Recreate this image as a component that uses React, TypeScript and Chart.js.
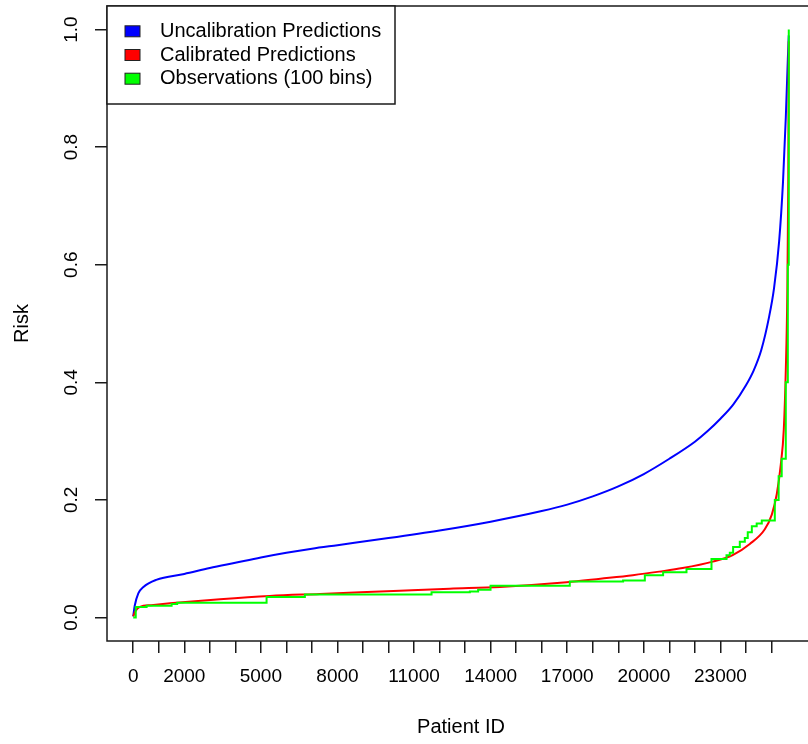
import { useEffect, useRef } from 'react';
import { Chart, registerables } from 'chart.js';

Chart.register(...registerables);

// ---- data ----
const seriesLabels = ['Uncalibration Predictions', 'Calibrated Predictions', 'Observations (100 bins)'];
const seriesColors = ['#0000ff', '#ff0000', '#00ff00'];

const blueX = [1, 60, 200, 400, 900, 2000, 3000, 4000, 5000, 6000, 7000, 8000, 10000, 12000, 14000, 16000, 17000, 18000, 19000, 20000, 21000, 22000, 22500, 23000, 23500, 24000, 24300, 24600, 24900, 25100, 25300, 25450, 25560, 25640, 25677];
const blueY = [0.002, 0.02, 0.041, 0.052, 0.064, 0.074, 0.084, 0.093, 0.102, 0.11, 0.117, 0.123, 0.135, 0.148, 0.163, 0.181, 0.192, 0.206, 0.223, 0.244, 0.27, 0.299, 0.317, 0.338, 0.362, 0.395, 0.42, 0.455, 0.51, 0.56, 0.64, 0.74, 0.85, 0.95, 0.99];

const redX = [1, 80, 262, 700, 1440, 3400, 5350, 7310, 10445, 12400, 14360, 16980, 18300, 19570, 20600, 21520, 22700, 23480, 24150, 24738, 25012, 25208, 25364, 25482, 25560, 25619, 25658, 25677];
const redY = [0.002, 0.01, 0.018, 0.021, 0.024, 0.031, 0.0366, 0.04, 0.0456, 0.049, 0.052, 0.06, 0.066, 0.072, 0.078, 0.084, 0.095, 0.106, 0.125, 0.15, 0.175, 0.21, 0.26, 0.32, 0.42, 0.55, 0.75, 0.98];

const greenX = [1, 100, 525, 1504, 1723, 5224, 6724, 11685, 13185, 13510, 13996, 17100, 19188, 20039, 20755, 21671, 22650, 23238, 23367, 23497, 23759, 23955, 24070, 24230, 24420, 24620, 25130, 25280, 25400, 25560, 25640, 25677];
const greenY = [0, 0.018, 0.02, 0.023, 0.025, 0.035, 0.039, 0.043, 0.044, 0.047, 0.054, 0.061, 0.063, 0.072, 0.077, 0.0825, 0.0995, 0.106, 0.11, 0.12, 0.129, 0.135, 0.145, 0.155, 0.16, 0.165, 0.2, 0.24, 0.27, 0.4, 0.6, 1.0];

const xTicks = [0, 1000, 2000, 3000, 4000, 5000, 6000, 7000, 8000, 9000, 10000, 11000, 12000, 13000, 14000, 15000, 16000, 17000, 18000, 19000, 20000, 21000, 22000, 23000, 24000, 25000];
const xLabelled = [0, 2000, 5000, 8000, 11000, 14000, 17000, 20000, 23000];
const yTicks = [0, 0.2, 0.4, 0.6, 0.8, 1.0];

const xTitle = 'Patient ID';
const yTitle = 'Risk';

const FONT = '"Liberation Sans", Arial, Helvetica, sans-serif';

const toPoints = (xs: number[], ys: number[]) => xs.map((x, i) => ({ x, y: ys[i] }));

const frameAndLegend = {
  id: 'frameAndLegend',
  afterDatasetsDraw(chart: any) {
    const { ctx, chartArea } = chart;
    ctx.save();
    ctx.strokeStyle = '#1a1a1a';
    ctx.lineWidth = 1.5;
    ctx.strokeRect(chartArea.left, chartArea.top, chartArea.right - chartArea.left, chartArea.bottom - chartArea.top);

    const x0 = chartArea.left;
    const y0 = chartArea.top;
    const w = 288;
    const h = 98;
    ctx.fillStyle = '#ffffff';
    ctx.fillRect(x0, y0, w, h);
    ctx.strokeRect(x0, y0, w, h);
    ctx.font = `20px ${FONT}`;
    ctx.textBaseline = 'middle';
    ctx.textAlign = 'left';
    chart.data.datasets.forEach((ds: any, i: number) => {
      const cy = y0 + 25.3 + i * 23.7;
      ctx.fillStyle = ds.borderColor;
      ctx.fillRect(x0 + 18, cy - 5.5, 15, 11);
      ctx.lineWidth = 1;
      ctx.strokeStyle = '#222';
      ctx.strokeRect(x0 + 18, cy - 5.5, 15, 11);
      ctx.fillStyle = '#000';
      ctx.fillText(ds.label, x0 + 53, cy);
    });
    ctx.restore();
  },
};

export default function App() {
  const ref = useRef<HTMLCanvasElement | null>(null);

  useEffect(() => {
    if (!ref.current) return;
    Chart.defaults.font.family = FONT;
    const chart = new Chart(ref.current, {
      type: 'line',
      data: {
        datasets: [
          {
            label: seriesLabels[0],
            data: toPoints(blueX, blueY),
            borderColor: seriesColors[0],
            backgroundColor: seriesColors[0],
            borderWidth: 2,
            pointRadius: 0,
            cubicInterpolationMode: 'monotone',
            order: 2,
          },
          {
            label: seriesLabels[1],
            data: toPoints(redX, redY),
            borderColor: seriesColors[1],
            backgroundColor: seriesColors[1],
            borderWidth: 2,
            pointRadius: 0,
            cubicInterpolationMode: 'monotone',
            order: 1,
          },
          {
            label: seriesLabels[2],
            data: toPoints(greenX, greenY),
            borderColor: seriesColors[2],
            backgroundColor: seriesColors[2],
            borderWidth: 2,
            pointRadius: 0,
            stepped: 'before',
            order: 0,
          },
        ],
      },
      options: {
        animation: false,
        responsive: false,
        devicePixelRatio: 1,
        events: [],
        layout: { padding: { left: 0, top: 6, right: 15, bottom: 0 }, autoPadding: false },
        plugins: { legend: { display: false }, tooltip: { enabled: false } },
        scales: {
          x: {
            type: 'linear',
            min: -1026,
            max: 26704,
            afterBuildTicks: (scale: any) => {
              scale.ticks = xTicks.map((v) => ({ value: v }));
            },
            afterFit: (scale: any) => {
              scale.height = 103;
              scale.paddingLeft = 0;
              scale.paddingRight = 0;
            },
            ticks: {
              autoSkip: false,
              maxRotation: 0,
              minRotation: 0,
              padding: 12,
              color: '#000',
              font: { size: 19, family: FONT },
              callback: (v: any) => (xLabelled.includes(Number(v)) ? String(v) : ''),
            },
            grid: {
              display: true,
              drawOnChartArea: false,
              drawTicks: true,
              tickLength: 12,
              color: '#1a1a1a',
              lineWidth: 1.5,
            },
            border: { display: false },
            title: {
              display: true,
              text: xTitle,
              color: '#000',
              font: { size: 20, family: FONT },
              padding: { top: 0, bottom: 5 },
            },
          },
          y: {
            type: 'linear',
            min: -0.04,
            max: 1.04,
            afterBuildTicks: (scale: any) => {
              scale.ticks = yTicks.map((v) => ({ value: v }));
            },
            afterFit: (scale: any) => {
              scale.width = 107;
              scale.paddingTop = 0;
              scale.paddingBottom = 0;
            },
            ticks: {
              autoSkip: false,
              minRotation: 90,
              maxRotation: 90,
              crossAlign: 'center',
              padding: 10,
              color: '#000',
              font: { size: 19, family: FONT },
              callback: (v: any) => Number(v).toFixed(1),
            },
            grid: {
              display: true,
              drawOnChartArea: false,
              drawTicks: true,
              tickLength: 12,
              color: '#1a1a1a',
              lineWidth: 1.5,
            },
            border: { display: false },
            title: {
              display: true,
              text: yTitle,
              color: '#000',
              font: { size: 20, family: FONT },
              padding: { top: 10, bottom: 0 },
            },
          },
        },
      },
      plugins: [frameAndLegend],
    } as any);
    return () => chart.destroy();
  }, []);

  return (
    <div style={{ position: 'fixed', left: 0, top: 0, width: 808, height: 744, overflow: 'hidden', background: '#fff' }}>
      <canvas ref={ref} width={830} height={744} style={{ display: 'block' }} />
    </div>
  );
}
